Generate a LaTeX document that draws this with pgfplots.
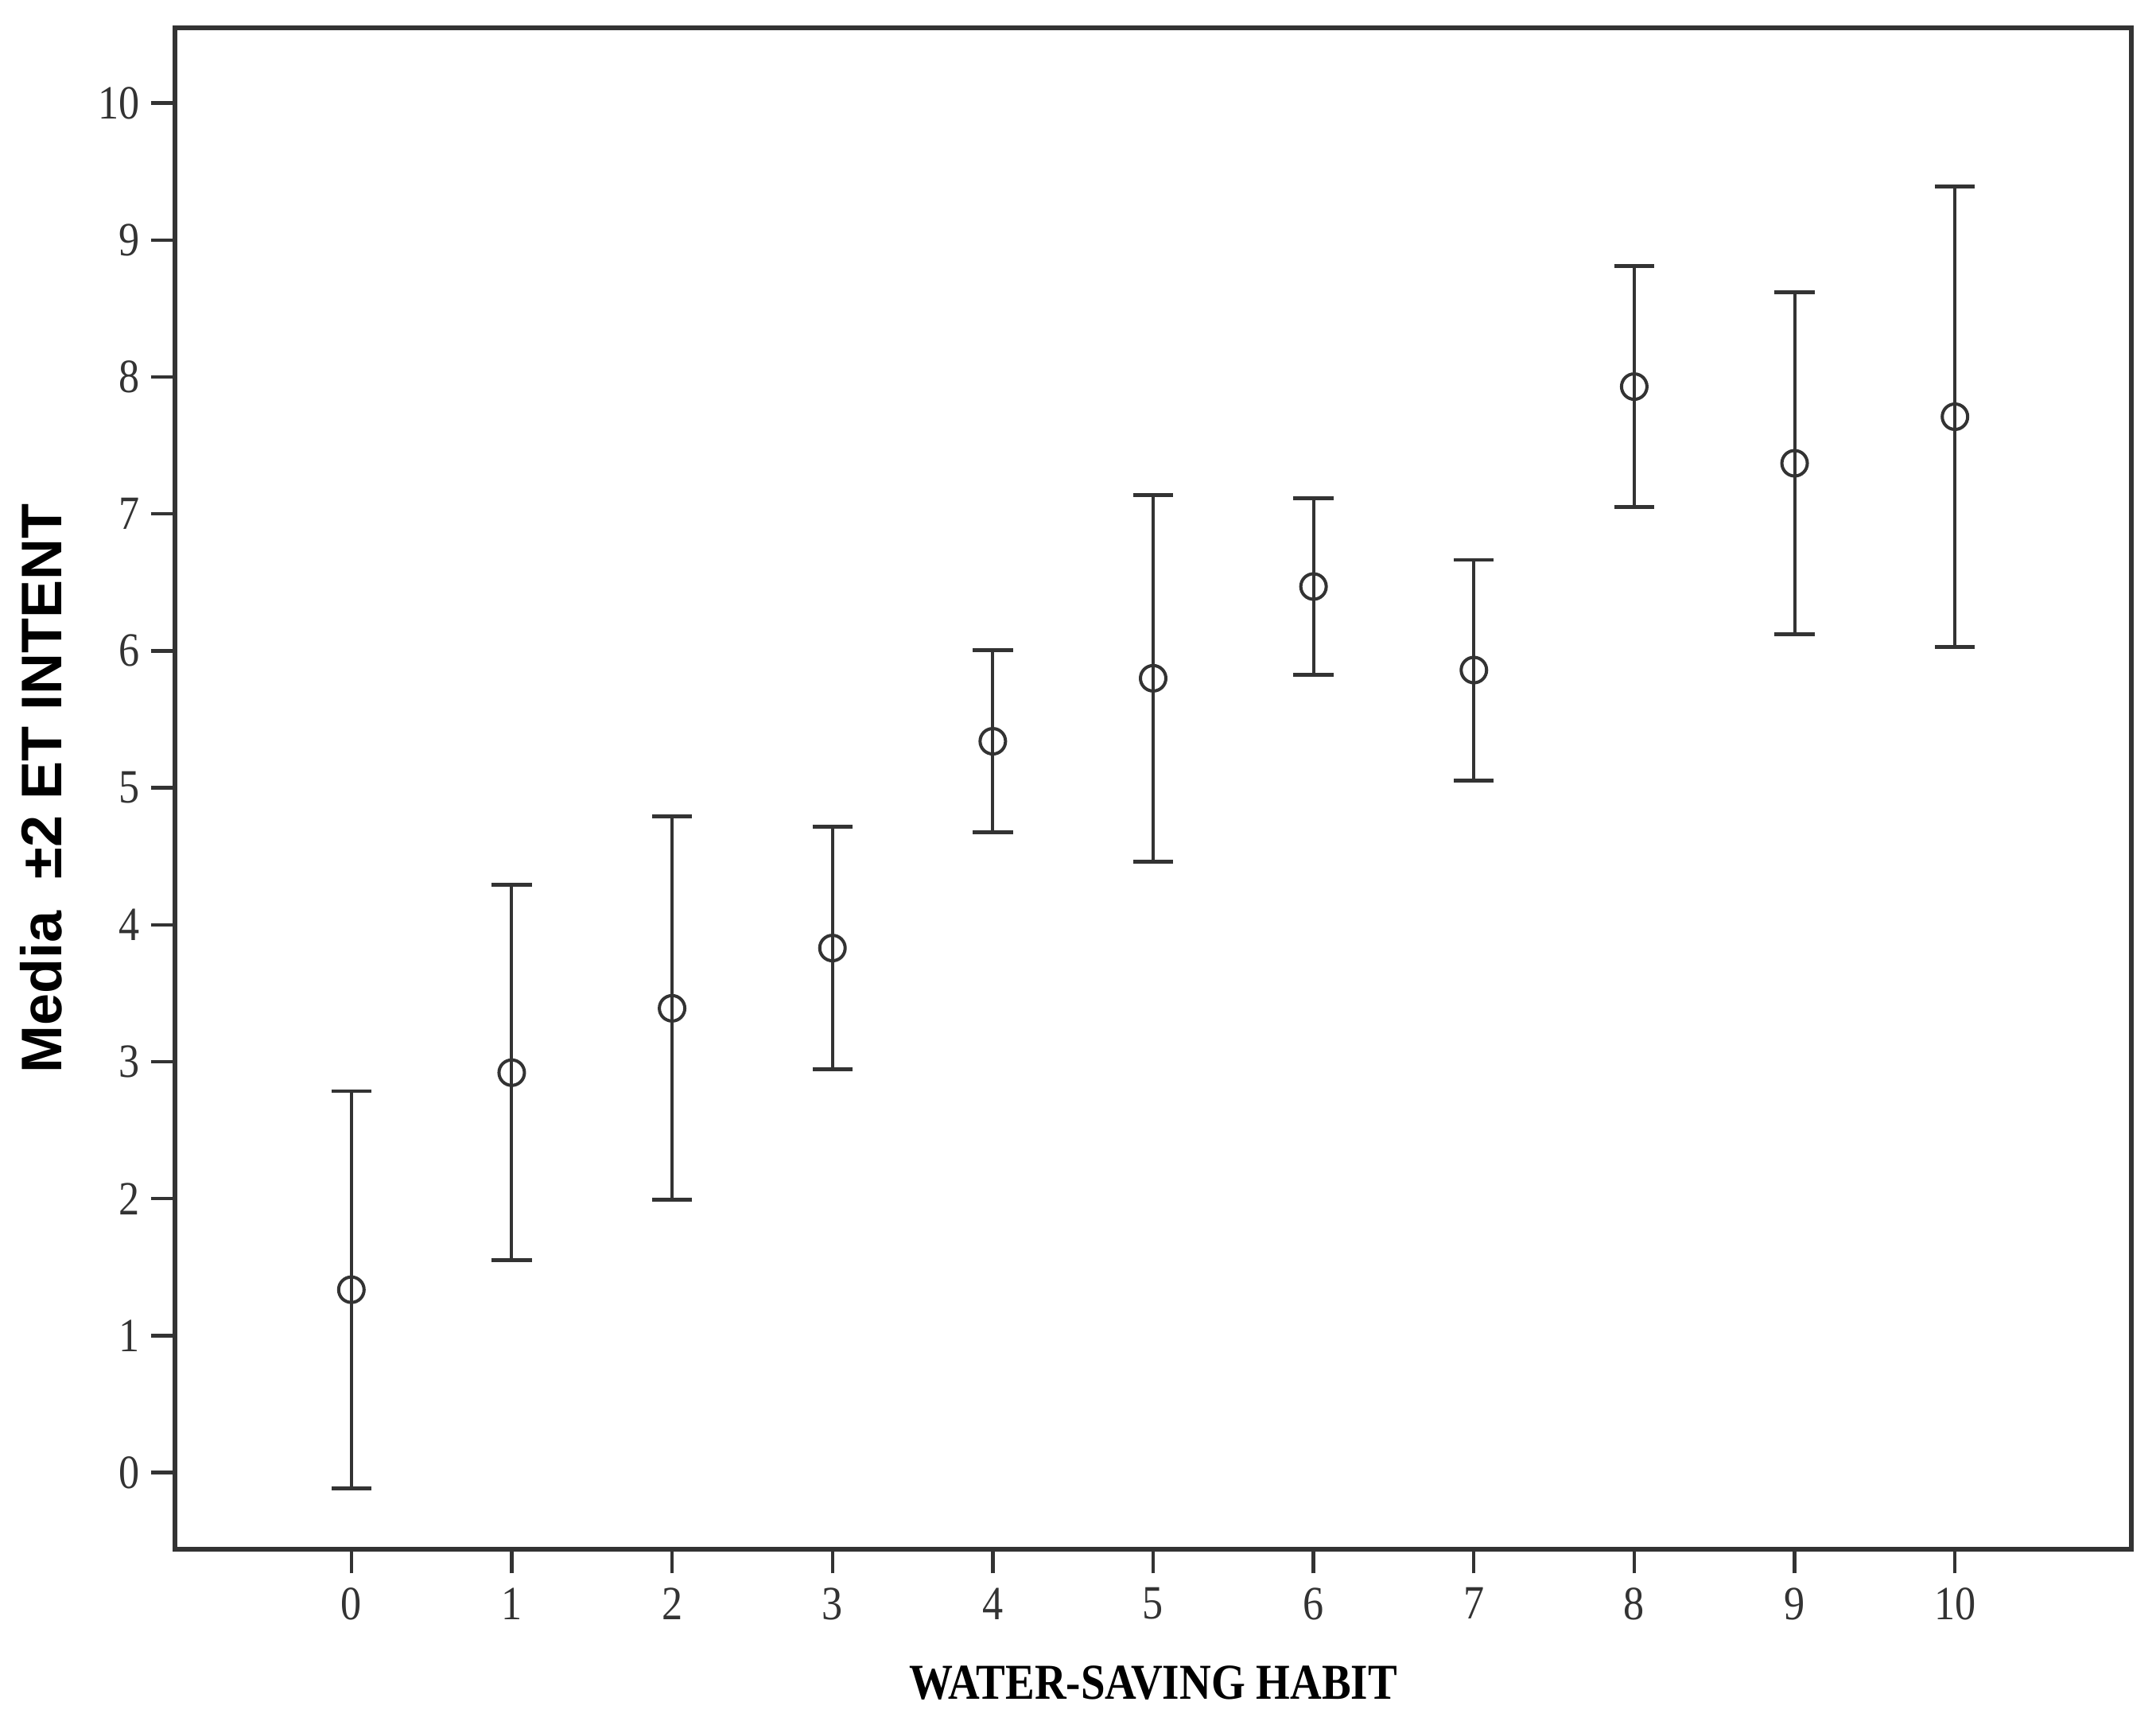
\documentclass[border=0pt]{standalone}
\usepackage{fontspec}
\usepackage{pgfplots}
\pgfplotsset{compat=1.18}
\setmainfont{Liberation Serif}
\newfontfamily\condserif[FakeStretch=0.87]{Liberation Serif}
\newfontfamily\labsans{Liberation Sans}
\definecolor{ink}{HTML}{333333}
\begin{document}
\begin{tikzpicture}
\begin{axis}[
  name=ax,
  scale only axis=true,
  width=615pt, height=478.25pt,
  xmin=-1.1, xmax=11.1,
  ymin=-0.56, ymax=10.55,
  xtick={0,1,2,3,4,5,6,7,8,9,10},
  ytick={0,1,2,3,4,5,6,7,8,9,10},
  xtick pos=bottom, ytick pos=left,
  tick align=outside,
  major tick length=7.6pt,
  axis line style={ink, line width=1.4pt},
  every tick/.style={ink, line width=1.1pt},
  /pgf/number format/assume math mode=true,
  tick label style={font=\condserif\fontsize{15}{18}\selectfont, text=ink},
  xticklabel style={yshift=-1pt},
  xlabel={\condserif\bfseries WATER-SAVING HABIT},
  xlabel style={at={(axis description cs:0.5,-0.0878)}, anchor=center, font=\fontsize{15.8}{18}\selectfont},
  ylabel={\labsans\bfseries Media \ \textpm2 ET INTENT},
  ylabel style={at={(axis description cs:-0.0683,0.5)}, anchor=center, rotate=0, font=\fontsize{18}{21}\selectfont},
  clip=false,
]
\addplot[ink, line width=1pt, only marks, mark=o, mark size=4pt,
  mark options={ink, line width=1pt},
  error bars/.cd, y dir=both, y explicit,
  error mark=-,
  error mark options={rotate=90, ink, line width=1.2pt, mark size=6.3pt},
  error bar style={ink, line width=1pt}]
  table[x=x, y=y, y error=e] {
x y e
0 1.335 1.45
1 2.92 1.37
2 3.39 1.40
3 3.83 0.885
4 5.34 0.665
5 5.80 1.34
6 6.47 0.645
7 5.86 0.805
8 7.93 0.88
9 7.37 1.25
10 7.71 1.68
};
\end{axis}
\pgfresetboundingbox
\path[use as bounding box] ([shift={(-55pt,-55.25pt)}]ax.south west) rectangle ([shift={(7.75pt,8.75pt)}]ax.north east);
\end{tikzpicture}
\end{document}
